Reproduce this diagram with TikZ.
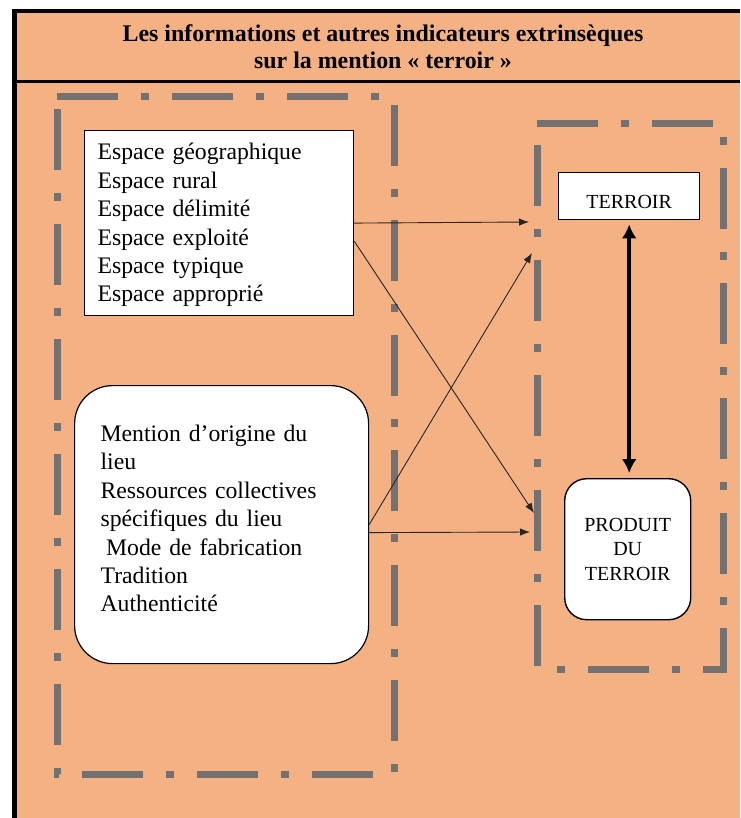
\documentclass[tikz,border=0pt]{standalone}
\usepackage{fontspec}
\setmainfont{Liberation Serif}
\usetikzlibrary{arrows.meta}
\definecolor{peach}{HTML}{F4B183}
\definecolor{dashgray}{HTML}{767171}
\begin{document}
\begin{tikzpicture}[x=1pt,y=-1pt,
  groupframe/.style={dashgray, line width=7pt, dash pattern=on 61pt off 23pt on 8pt off 23pt},
  listbox/.style={draw=black, line width=1.2pt, fill=white, anchor=north west},
  listtext/.style={align=left, inner sep=0pt, font=\fontsize{23.7}{28.4}\selectfont},
  smallbox/.style={draw=black, line width=1.4pt, fill=white, anchor=north west,
    font=\fontsize{20}{24.5}\selectfont},
  thinarrow/.style={-{Latex[length=10pt,width=7.5pt]}, line width=0.9pt, draw=black!85},
  thickarrow/.style={{Latex[length=14pt,width=15pt]}-{Latex[length=14pt,width=15pt]}, line width=4.3pt}
]
\useasboundingbox (0,0) rectangle (740,818);
% background panel
\fill[peach] (14.5,11) rectangle (740,818);
\draw[line width=4.2pt] (14.5,818) -- (14.5,11) -- (740,11);
\draw[line width=3pt] (14.5,81.5) -- (740,81.5);
% title
\node (title) at (383,46.5) [font=\bfseries\fontsize{23.9}{26.6}\selectfont, align=center]
  {Les informations et autres indicateurs extrinsèques\\sur la mention « terroir »};
% dash-dot group frames
\draw[groupframe] (57,97) -- (394,97) -- (394,774) -- (57,774) -- cycle;
\draw[groupframe] (537,124) -- (723,124) -- (723,669) -- (537,669) -- cycle;
% boxes
\node[listbox, minimum width=269pt, minimum height=185pt] (topbox) at (84,130) {};
\node[listtext, text width=243pt] (toptext) at ([yshift=-2pt]topbox.center)
  {Espace géographique\\Espace rural\\Espace délimité\\Espace exploité\\Espace typique\\Espace approprié};
\node[listbox, rounded corners=38pt, minimum width=294pt, minimum height=278pt] (roundbox) at (74,385) {};
\node[listtext, text width=242pt] (roundtext) at ([yshift=6pt]roundbox.center)
  {Mention d’origine du\\lieu\\Ressources collectives\\spécifiques du lieu\\\hspace*{5.5pt}Mode de fabrication\\Tradition\\Authenticité};
\node[smallbox, minimum width=141pt, minimum height=47pt, inner sep=0pt, text height=25pt, text depth=0pt] (terroir) at (558,172) {TERROIR};
\node[smallbox, rounded corners=22pt, minimum width=126pt, minimum height=141pt, align=center] (produit) at (564,478) {PRODUIT\\DU\\TERROIR};
% arrow ends on the right frame
\coordinate (e1) at (529,222);
\coordinate (e2) at (534,513);
\coordinate (e3) at (532,253);
\coordinate (e4) at (530,532);
\draw[thinarrow] (topbox.east) -- (e1);
\draw[thinarrow] ([yshift=-18pt]topbox.east) -- (e2);
\draw[thinarrow] (roundbox.east) -- (e3);
\draw[thinarrow] ([yshift=-8pt]roundbox.east) -- (e4);
\draw[thickarrow, shorten <=4pt, shorten >=5pt] (terroir.south) -- (terroir.south |- produit.north);
\end{tikzpicture}
\end{document}
